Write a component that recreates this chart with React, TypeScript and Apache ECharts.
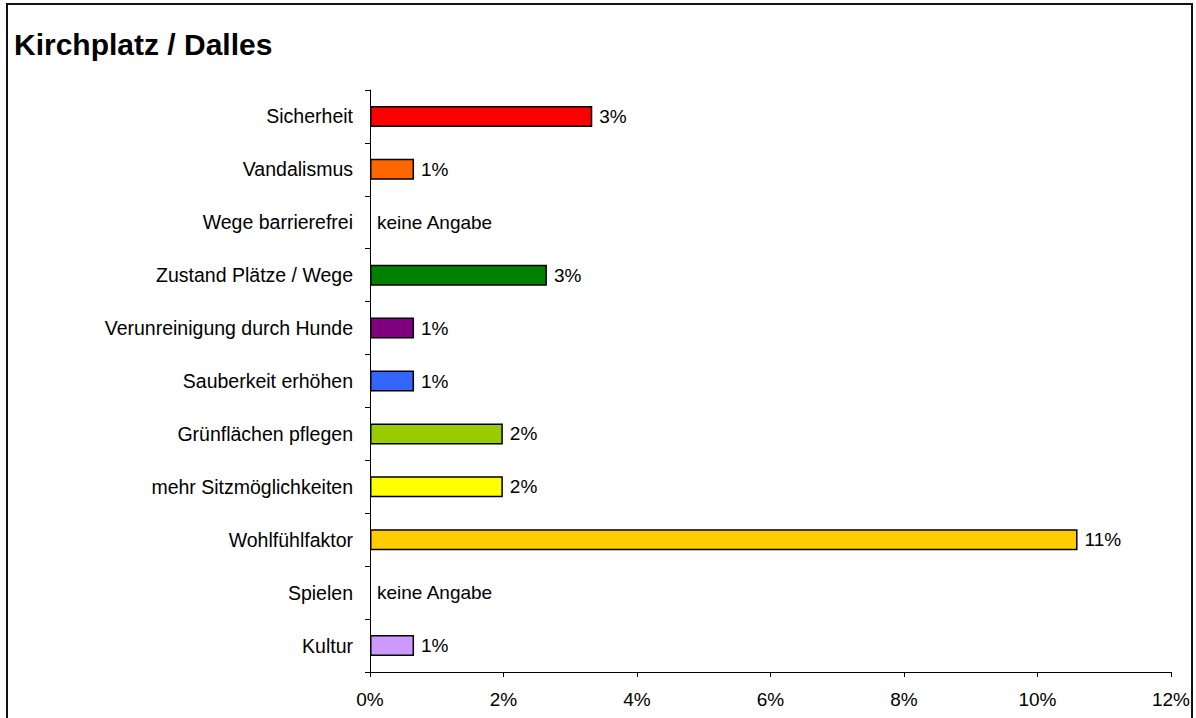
import React, { useEffect, useRef } from "react";
import * as echarts from "echarts";

const titleText = "Kirchplatz / Dalles";
const categories = [
  "Sicherheit",
  "Vandalismus",
  "Wege barrierefrei",
  "Zustand Plätze / Wege",
  "Verunreinigung durch Hunde",
  "Sauberkeit erhöhen",
  "Grünflächen pflegen",
  "mehr Sitzmöglichkeiten",
  "Wohlfühlfaktor",
  "Spielen",
  "Kultur",
];
const values = [3.33, 0.66, 0, 2.65, 0.66, 0.66, 1.99, 1.99, 10.6, 0, 0.66];
const colors = [
  "#FF0000",
  "#FF6600",
  "#FFFFFF",
  "#008000",
  "#800080",
  "#3366FF",
  "#99CC00",
  "#FFFF00",
  "#FFCC00",
  "#FFFFFF",
  "#CC99FF",
];
const emptyLabel = "keine Angabe";
const xMin = 0;
const xMax = 12;
const xStep = 2;

export default function App() {
  const ref = useRef<HTMLDivElement>(null);
  useEffect(() => {
    if (!ref.current) return;
    const chart = echarts.init(ref.current, null, { renderer: "svg" });
    const font = "'Liberation Sans', Arial, sans-serif";
    chart.setOption({
      animation: false,
      backgroundColor: "#FFFFFF",
      title: {
        text: titleText,
        left: 9,
        top: 24,
        textStyle: { fontFamily: font, fontSize: 30, fontWeight: "bold", color: "#000" },
      },
      graphic: [
        {
          type: "rect",
          shape: { x: 7, y: 4, width: 1185, height: 740 },
          style: { fill: "none", stroke: "#111", lineWidth: 2 },
          silent: true,
        },
      ],
      grid: { left: 370, top: 90, right: 25, bottom: 46, containLabel: false },
      xAxis: {
        type: "value",
        min: xMin,
        max: xMax,
        interval: xStep,
        splitLine: { show: false },
        axisLine: { show: true, lineStyle: { color: "#000", width: 1 } },
        axisTick: { show: true, length: 5, lineStyle: { color: "#000" } },
        axisLabel: {
          margin: 18,
          fontFamily: font,
          fontSize: 19,
          color: "#000",
          formatter: (v: number) => `${v}%`,
        },
      },
      yAxis: {
        type: "category",
        inverse: true,
        data: categories,
        axisLine: { show: true, lineStyle: { color: "#000", width: 1 } },
        axisTick: { show: true, length: 5, lineStyle: { color: "#000" } },
        axisLabel: { margin: 17, fontFamily: font, fontSize: 19.5, color: "#000" },
      },
      series: [
        {
          type: "bar",
          barWidth: 21,
          data: values.map((v, i) => ({
            value: v,
            itemStyle: {
              color: colors[i],
              borderColor: v === 0 ? "transparent" : "#000",
              borderWidth: v === 0 ? 0 : 1.5,
            },
          })),
          label: {
            show: true,
            position: "right",
            distance: 7,
            fontFamily: font,
            fontSize: 19,
            color: "#000",
            formatter: (p: any) => (p.value === 0 ? emptyLabel : `${Math.round(p.value)}%`),
          },
        },
      ],
    });
    return () => chart.dispose();
  }, []);
  return (
    <div
      ref={ref}
      style={{ position: "fixed", left: 0, top: 0, width: 1196, height: 718 }}
    />
  );
}
